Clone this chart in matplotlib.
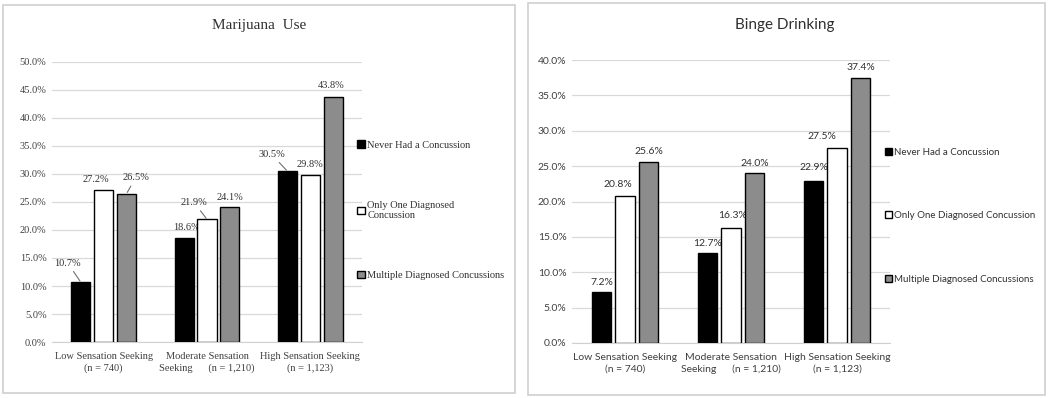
import numpy as np
import matplotlib.pyplot as plt
from matplotlib.patches import Rectangle

# datos
grupos = ["Low Sensation Seeking\n(n = 740)",
          "Moderate Sensation\nSeeking      (n = 1,210)",
          "High Sensation Seeking\n(n = 1,123)"]
series_mj = ["Never Had a Concussion", "Only One Diagnosed\nConcussion", "Multiple Diagnosed Concussions"]
series_bd = ["Never Had a Concussion", "Only One Diagnosed Concussion", "Multiple Diagnosed Concussions"]

marihuana_nunca = [10.7, 18.6, 30.5]
marihuana_una = [27.2, 21.9, 29.8]
marihuana_multiples = [26.5, 24.1, 43.8]

alcohol_nunca = [7.2, 12.7, 22.9]
alcohol_una = [20.8, 16.3, 27.5]
alcohol_multiples = [25.6, 24.0, 37.4]

colores = ["#000000", "#ffffff", "#8c8c8c"]

# desplazamiento de etiquetas (pixeles) y si llevan linea guia
off_mj = [[(-13, 19, True), (2, 10, False), (-16, 17, True)],
          [(-8, 10, False), (-13, 17, True), (0, 11, False)],
          [(9, 16, True), (0, 10, False), (-2, 11, False)]]
off_bd = [[(0, 10, False), (0, 10, False), (0, 13, False)],
          [(-7, 11, False), (2, 12, False), (-15, 12, False)],
          [(0, 10, False), (0, 10, False), (0, 11, False)]]

fig = plt.figure(figsize=(10.48, 3.98), dpi=100)
W, H = 1048, 398

# marcos de cada panel
fig.patches.append(Rectangle((3 / W, 1 - 393 / H), 512 / W, 388 / H, transform=fig.transFigure,
                             fill=False, edgecolor="#d0d0d0", linewidth=1.2))
fig.patches.append(Rectangle((528 / W, 1 - 395 / H), 517 / W, 392 / H, transform=fig.transFigure,
                             fill=False, edgecolor="#d0d0d0", linewidth=1.2))


def panel(rect, titulo, tx, datos, nombres, ymax, offs, fuente, legy, espacio, tam_ley):
    ax = fig.add_axes(rect)
    x = np.arange(len(grupos))
    ancho = 0.185
    paso = 0.222
    for i, vals in enumerate(datos):
        barras = ax.bar(x + (i - 1) * paso, vals, ancho, color=colores[i], edgecolor="black",
                        linewidth=1.0, label=nombres[i], zorder=3)
        for j, b in enumerate(barras):
            dx, dy, linea = offs[i][j]
            cx = b.get_x() + b.get_width() / 2
            props = dict(arrowstyle="-", color="#707070", lw=0.8, shrinkA=1, shrinkB=1) if linea else None
            ax.annotate("%.1f%%" % vals[j], (cx, vals[j]), xytext=(dx, dy), textcoords="offset pixels",
                        ha="center", va="center", fontsize=7.5, family=fuente, color="#303030",
                        arrowprops=props)
    ax.set_xlim(-0.5, 2.5)
    ax.set_ylim(0, ymax)
    ax.set_yticks(np.arange(0, ymax + 0.1, 5))
    ax.set_yticklabels(["%.1f%%" % v for v in np.arange(0, ymax + 0.1, 5)], family=fuente,
                       fontsize=7.5, color="#404040")
    ax.set_xticks(x)
    ax.set_xticklabels(grupos, family=fuente, fontsize=7.5, color="#404040", linespacing=1.35)
    ax.tick_params(axis="y", length=0, pad=4)
    ax.tick_params(axis="x", length=0, pad=7)
    ax.grid(axis="y", color="#d9d9d9", linewidth=0.9, zorder=0)
    for s in ["top", "right", "left"]:
        ax.spines[s].set_visible(False)
    ax.spines["bottom"].set_color("#d0d0d0")
    ax.legend(loc="center left", bbox_to_anchor=(0.985, legy), frameon=False,
              prop={"family": fuente, "size": tam_ley}, labelcolor="#303030",
              borderpad=0, borderaxespad=0,
              handlelength=0.7, handleheight=0.7, handletextpad=0.25, labelspacing=espacio)
    fig.text(tx, 1 - 25 / H, titulo, ha="center", va="center", family=fuente, fontsize=11, color="#303030")
    return ax


panel([52 / W, 1 - 342 / H, 310 / W, 280 / H], "Marijuana  Use", 259 / W,
      [marihuana_nunca, marihuana_una, marihuana_multiples], series_mj, 50, off_mj,
      "Liberation Serif", 0.47, 4.9, 7.5)
panel([572 / W, 1 - 343 / H, 318 / W, 283 / H], "Binge Drinking", 785 / W,
      [alcohol_nunca, alcohol_una, alcohol_multiples], series_bd, 40, off_bd,
      "Lato", 0.45, 5.6, 7.0)

plt.savefig("out.png", dpi=100)
